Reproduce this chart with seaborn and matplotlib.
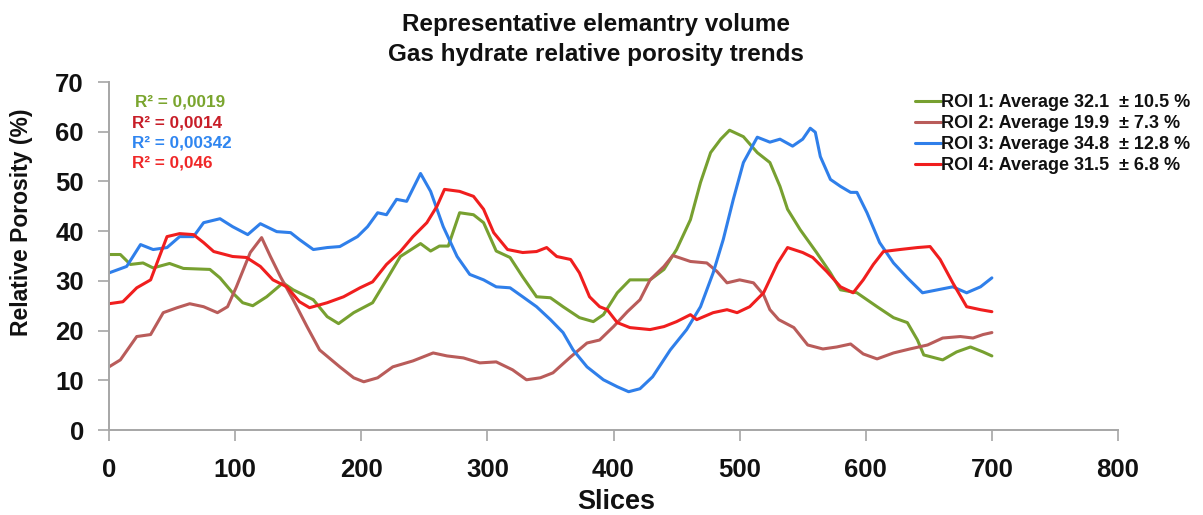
import matplotlib
matplotlib.use("Agg")
import matplotlib.pyplot as plt
import seaborn as sns
import pandas as pd

# ---- data ----
roi1_x = [0, 9, 17, 27, 35, 48, 59, 80, 88, 98, 106, 114, 125, 138, 146, 162, 173, 182, 194, 209, 220, 231, 247, 255, 262, 269, 278, 289, 297, 307, 318, 328, 339, 350, 360, 373, 384, 392, 403, 413, 429, 440, 450, 461, 469, 477, 485, 492, 503, 514, 524, 532, 538, 548, 561, 572, 580, 593, 609, 622, 633, 641, 646, 661, 672, 683, 693, 700]
roi1_y = [35.3, 35.3, 33.3, 33.6, 32.6, 33.5, 32.5, 32.3, 30.6, 27.6, 25.6, 25.0, 26.8, 29.6, 28.2, 26.2, 22.8, 21.4, 23.6, 25.6, 30.2, 34.9, 37.5, 36.0, 37.0, 37.0, 43.7, 43.3, 41.7, 36.0, 34.7, 30.8, 26.8, 26.6, 24.8, 22.6, 21.8, 23.2, 27.6, 30.2, 30.2, 32.3, 36.3, 42.3, 49.8, 55.8, 58.5, 60.3, 59.0, 55.8, 53.8, 49.0, 44.4, 40.3, 35.7, 31.6, 28.2, 27.6, 24.8, 22.6, 21.6, 18.1, 15.1, 14.1, 15.7, 16.7, 15.7, 14.9]

roi2_x = [0, 9, 22, 33, 43, 54, 64, 75, 86, 94, 101, 112, 121, 128, 136, 146, 157, 167, 183, 194, 202, 213, 225, 241, 257, 268, 281, 294, 307, 320, 331, 342, 352, 366, 379, 389, 400, 411, 421, 429, 440, 447, 461, 474, 482, 490, 500, 511, 519, 524, 531, 543, 554, 566, 577, 588, 598, 609, 622, 635, 649, 661, 675, 685, 693, 700]
roi2_y = [12.7, 14.1, 18.8, 19.2, 23.6, 24.6, 25.4, 24.8, 23.6, 24.8, 28.8, 35.7, 38.7, 34.9, 30.8, 26.2, 20.8, 16.1, 12.7, 10.5, 9.7, 10.5, 12.7, 13.9, 15.5, 14.9, 14.5, 13.5, 13.7, 12.1, 10.1, 10.5, 11.5, 14.7, 17.5, 18.1, 20.8, 23.8, 26.2, 30.2, 32.9, 35.1, 33.9, 33.6, 31.9, 29.6, 30.2, 29.6, 27.2, 24.2, 22.2, 20.6, 17.1, 16.3, 16.7, 17.3, 15.3, 14.3, 15.5, 16.3, 17.1, 18.5, 18.8, 18.5, 19.2, 19.6]

roi3_x = [0, 14, 25, 35, 46, 56, 67, 75, 88, 98, 110, 120, 133, 144, 151, 162, 173, 183, 197, 205, 213, 220, 228, 236, 247, 255, 265, 276, 286, 297, 307, 318, 328, 339, 350, 360, 368, 379, 392, 403, 412, 421, 431, 445, 458, 469, 479, 487, 495, 503, 514, 524, 532, 542, 550, 556, 560, 564, 572, 580, 588, 593, 601, 611, 622, 633, 645, 657, 669, 680, 691, 700]
roi3_y = [31.6, 32.9, 37.3, 36.3, 36.7, 38.9, 38.9, 41.7, 42.5, 40.9, 39.3, 41.5, 39.9, 39.7, 38.3, 36.3, 36.7, 36.9, 38.9, 40.9, 43.7, 43.3, 46.4, 46.0, 51.6, 48.0, 40.9, 34.9, 31.3, 30.2, 28.8, 28.6, 26.8, 24.8, 22.2, 19.6, 16.1, 12.7, 10.1, 8.7, 7.7, 8.3, 10.7, 16.1, 20.2, 24.8, 31.6, 38.3, 46.4, 53.8, 58.9, 57.9, 58.5, 57.1, 58.5, 60.7, 59.9, 55.0, 50.4, 49.0, 47.8, 47.8, 43.7, 37.7, 33.6, 30.6, 27.6, 28.2, 28.8, 27.6, 28.8, 30.6]

roi4_x = [0, 11, 22, 33, 40, 46, 56, 67, 75, 83, 98, 109, 120, 130, 141, 151, 159, 173, 186, 199, 209, 220, 231, 241, 252, 260, 266, 278, 289, 297, 305, 316, 328, 339, 347, 355, 366, 373, 381, 389, 395, 403, 413, 429, 440, 450, 461, 466, 479, 490, 498, 508, 519, 530, 538, 550, 558, 569, 580, 590, 598, 606, 614, 627, 641, 651, 659, 669, 680, 691, 700]
roi4_y = [25.4, 25.8, 28.6, 30.2, 34.9, 38.9, 39.5, 39.3, 37.7, 35.9, 34.9, 34.7, 32.9, 30.2, 28.8, 25.8, 24.6, 25.6, 26.8, 28.6, 29.8, 33.3, 35.9, 38.9, 41.7, 45.0, 48.4, 48.0, 47.0, 44.4, 39.7, 36.3, 35.7, 35.9, 36.7, 34.9, 34.3, 31.6, 26.8, 24.8, 24.2, 21.6, 20.6, 20.2, 20.8, 21.8, 23.2, 22.2, 23.6, 24.2, 23.6, 24.8, 27.6, 33.5, 36.7, 35.7, 34.7, 31.9, 28.8, 27.6, 30.2, 33.3, 35.9, 36.3, 36.7, 36.9, 34.3, 29.6, 24.8, 24.2, 23.8]

series_labels = ["ROI 1: Average 32.1  \u00b1 10.5 %",
                 "ROI 2: Average 19.9  \u00b1 7.3 %",
                 "ROI 3: Average 34.8  \u00b1 12.8 %",
                 "ROI 4: Average 31.5  \u00b1 6.8 %"]
series_colors = ["#77A030", "#B95C5A", "#2F7FEA", "#F01E1E"]
r2_texts = ["R\u00b2 = 0,0019", "R\u00b2 = 0,0014", "R\u00b2 = 0,00342", "R\u00b2 = 0,046"]
r2_colors = ["#7AA52E", "#C81E28", "#2F86F0", "#F02828"]

x_ticks = [0, 100, 200, 300, 400, 500, 600, 700, 800]
y_ticks = [0, 10, 20, 30, 40, 50, 60, 70]

# ---- figure ----
sns.set_theme(style="white")
plt.rcParams["font.family"] = ["Liberation Sans", "DejaVu Sans"]

fig = plt.figure(figsize=(12.03, 5.15), dpi=100)
ax = fig.add_axes([109 / 1203, 1 - 430 / 515, (1118 - 109) / 1203, (430 - 82) / 515])

xs = [roi1_x, roi2_x, roi3_x, roi4_x]
ys = [roi1_y, roi2_y, roi3_y, roi4_y]
for x, y, lab, col in zip(xs, ys, series_labels, series_colors):
    df = pd.DataFrame({"Slices": x, "Porosity": y})
    sns.lineplot(data=df, x="Slices", y="Porosity", color=col, linewidth=2.2,
                 label=lab, estimator=None, ax=ax)

ax.set_xlim(0, 800)
ax.set_ylim(0, 70)
ax.set_xticks(x_ticks)
ax.set_yticks(y_ticks)
ax.set_xticklabels([str(t) for t in x_ticks], fontsize=18.5, fontweight="bold")
ax.set_yticklabels([str(t) for t in y_ticks], fontsize=18.5, fontweight="bold")
ax.tick_params(axis="both", direction="out", length=8, width=1.2, color="#A6A6A6",
               bottom=True, left=True, pad=10, labelcolor="#111111")
ax.tick_params(axis="x", pad=12)
for side in ["top", "right"]:
    ax.spines[side].set_visible(False)
for side in ["left", "bottom"]:
    ax.spines[side].set_color("#A6A6A6")
    ax.spines[side].set_linewidth(1.4)
ax.set_xlabel("")
ax.set_ylabel("")
ax.grid(False)

fig.text(616 / 1203, 1 - 502 / 515, "Slices", fontsize=19.5, fontweight="bold",
         ha="center", va="center", color="#111111")
fig.text(22 / 1203, 1 - 222 / 515, "Relative Porosity (%)", fontsize=16.5, fontweight="bold",
         rotation=90, ha="center", va="center", color="#111111")

fig.text(596 / 1203, 1 - 25 / 515, "Representative elemantry volume", fontsize=17.5,
         fontweight="bold", ha="center", va="center", color="#111111")
fig.text(596 / 1203, 1 - 55 / 515, "Gas hydrate relative porosity trends", fontsize=17.5,
         fontweight="bold", ha="center", va="center", color="#111111")

r2_x = [135, 132, 132, 132]
r2_y = [102, 123, 143, 163]
for t, c, px, py in zip(r2_texts, r2_colors, r2_x, r2_y):
    fig.text(px / 1203, 1 - py / 515, t, fontsize=12.3, fontweight="bold", color=c,
             ha="left", va="center")

leg = ax.legend(loc="upper left", bbox_to_anchor=(915 / 1203, 1 - 94 / 515),
                bbox_transform=fig.transFigure, frameon=False, handlelength=1.45,
                handletextpad=0.0, labelspacing=0.22, borderpad=0, borderaxespad=0,
                prop={"weight": "bold", "size": 13})
for txt in leg.get_texts():
    txt.set_color("#111111")

fig.savefig("out.png", dpi=100)
